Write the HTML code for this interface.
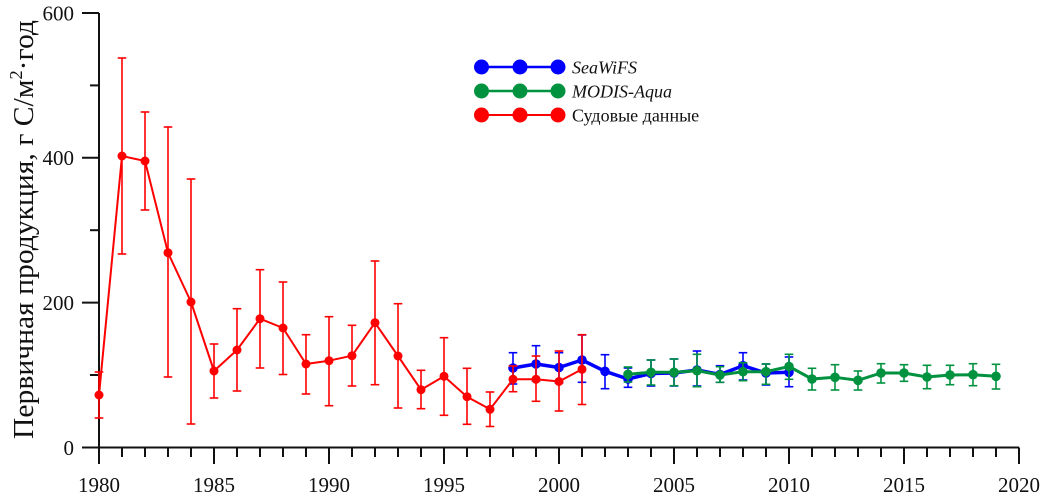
<!DOCTYPE html>
<html><head><meta charset="utf-8"><style>
html,body{margin:0;padding:0;background:#fff;}
svg{display:block;font-family:"Liberation Serif","Times New Roman",serif;}
svg text{font-family:"Liberation Serif","Times New Roman",serif;fill:#111;}
</style></head><body>
<svg id="c" width="1041" height="498" viewBox="0 0 1041 498" xmlns="http://www.w3.org/2000/svg" font-family="Liberation Serif, serif">
<g id="axes" stroke="#111" stroke-width="2" fill="none">
<line x1="99" y1="13" x2="99" y2="464"/>
<line x1="82" y1="447.5" x2="1019" y2="447.5"/>
<line x1="82" y1="13" x2="99" y2="13"/>
<line x1="82" y1="157.8" x2="99" y2="157.8"/>
<line x1="82" y1="302.6" x2="99" y2="302.6"/>
<line x1="90" y1="85.4" x2="99" y2="85.4"/>
<line x1="90" y1="230.2" x2="99" y2="230.2"/>
<line x1="90" y1="375" x2="99" y2="375"/>
</g>
<g id="xt" stroke="#111" stroke-width="2"></g>
<g font-size="21" text-anchor="end" font-family="Liberation Serif, serif">
<text x="74" y="20.5">600</text>
<text x="74" y="165">400</text>
<text x="74" y="310">200</text>
<text x="74" y="455">0</text>
</g>
<g id="xl" font-size="21" text-anchor="middle" font-family="Liberation Serif, serif"></g>
<text transform="translate(33,229.5) rotate(-90)" font-size="29" text-anchor="middle" textLength="419" lengthAdjust="spacingAndGlyphs" font-family="Liberation Serif, serif">Первичная продукция, г С/м<tspan font-size="18" dy="-11">2</tspan><tspan dy="11">·год</tspan></text>
<g id="series"></g>
<g id="legend">
<line x1="481" y1="67" x2="558" y2="67" stroke="#0000ff" stroke-width="2.5"/>
<circle cx="481.5" cy="67" r="7.5" fill="#0000ff"/><circle cx="520" cy="67" r="7.5" fill="#0000ff"/><circle cx="558" cy="67" r="7.5" fill="#0000ff"/>
<line x1="481" y1="91" x2="558" y2="91" stroke="#00923f" stroke-width="2.5"/>
<circle cx="481.5" cy="91" r="7.5" fill="#00923f"/><circle cx="520" cy="91" r="7.5" fill="#00923f"/><circle cx="558" cy="91" r="7.5" fill="#00923f"/>
<line x1="481" y1="115" x2="558" y2="115" stroke="#ff0000" stroke-width="2"/>
<circle cx="481.5" cy="115" r="7.5" fill="#ff0000"/><circle cx="520" cy="115" r="7.5" fill="#ff0000"/><circle cx="558" cy="115" r="7.5" fill="#ff0000"/>
<text x="572" y="73.5" font-size="18" font-style="italic" font-family="Liberation Serif, serif">SeaWiFS</text>
<text x="572" y="97.5" font-size="18" font-style="italic" font-family="Liberation Serif, serif">MODIS-Aqua</text>
<text x="572" y="121.5" font-size="18" font-family="Liberation Serif, serif">Судовые данные</text>
</g>
</svg>
<script>
(function(){
var NS="http://www.w3.org/2000/svg";
function X(y){return 99+23*(y-1980);}
function el(tag,attrs,parent){var e=document.createElementNS(NS,tag);for(var k in attrs)e.setAttribute(k,attrs[k]);parent.appendChild(e);return e;}
var xt=document.getElementById('xt'), xl=document.getElementById('xl');
for(var y=1980;y<=2020;y++){
  var major=(y%5===0);
  el('line',{x1:X(y),y1:447.5,x2:X(y),y2:major?464:457},xt);
  if(major){var t=el('text',{x:X(y),y:492},xl);t.textContent=String(y);}
}
var red=[[1980,395,372,418],[1981,156,58,254],[1982,161,112,210],[1983,252.7,127,377],[1984,302,179,424],[1985,371,344,398],[1986,350,308.7,391],[1987,318.7,269.7,368],[1988,328,282,374.5],[1989,364,334.7,394],[1990,360.7,316.7,405.7],[1991,355.7,325.3,386],[1992,322.7,261,384.7],[1993,356,303.7,408],[1994,389.7,370.3,408.7],[1995,376.3,337.7,415.3],[1996,396.7,368.3,424.3],[1997,409.3,392,426.5],[1998,379.3,366,391.7],[1999,379.3,356,401.3],[2000,381.5,351,411],[2001,369.3,334.7,404.5]];
var blue=[[1998,368,352.7,384],[1999,364,345.7,381],[2000,367.5,352.7,383],[2001,360,335,382.3],[2002,371.3,354.7,388.7],[2003,379,368,387.3],[2004,373.5,360,386],[2005,373,359,386],[2006,370,351,386],[2007,374.5,365.7,382.3],[2008,365.7,352.7,380],[2009,373,364,385],[2010,372.3,357,386.7]];
var green=[[2003,374.3,367,382],[2004,372.3,360,385],[2005,372.3,359,385.7],[2006,370.7,354.3,386.7],[2007,375,366.7,382.3],[2008,371.7,362.7,380.7],[2009,371.7,364,384.3],[2010,366.5,354.3,379.3],[2011,379,368.3,390],[2012,377.3,364.7,390],[2013,380.3,371,390],[2014,373,363.7,383],[2015,373,364.7,381.3],[2016,377,365.3,388.7],[2017,375,365.3,384.7],[2018,374.7,363.7,385.7],[2019,376.3,364.3,389]];
var g=document.getElementById('series');
function draw(data,color,lw,r){
  var gg=el('g',{},g);
  data.forEach(function(d){var x=X(d[0]);
    el('line',{x1:x,y1:d[2],x2:x,y2:d[3],stroke:color,'stroke-width':1.6},gg);
    el('line',{x1:x-4.3,y1:d[2],x2:x+4.3,y2:d[2],stroke:color,'stroke-width':1.6},gg);
    el('line',{x1:x-4.3,y1:d[3],x2:x+4.3,y2:d[3],stroke:color,'stroke-width':1.6},gg);
  });
  el('polyline',{points:data.map(function(d){return X(d[0])+','+d[1];}).join(' '),fill:'none',stroke:color,'stroke-width':lw,'stroke-linejoin':'round'},gg);
  data.forEach(function(d){el('circle',{cx:X(d[0]),cy:d[1],r:r,fill:color},gg);});
}
draw(blue,'#0000ff',3.5,4.8);
draw(red,'#ff0000',2,4.5);
draw(green,'#00923f',3,4.8);
})();
</script>
</body></html>
